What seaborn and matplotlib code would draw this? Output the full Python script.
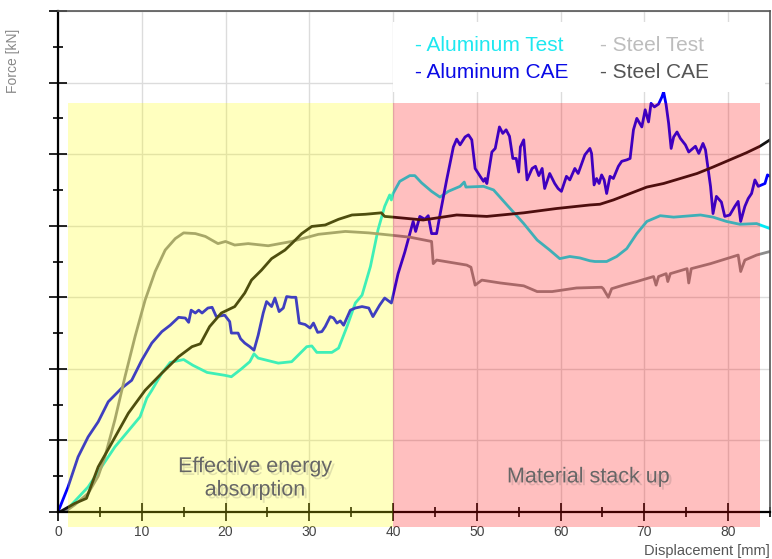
import seaborn as sns
import matplotlib.pyplot as plt
from matplotlib.patches import Rectangle
from matplotlib.ticker import MultipleLocator, NullFormatter
import matplotlib.patheffects as pe

# values (x: displacement [mm], y: force, arbitrary units)
al_test_x = [0.8, 3.6, 6.8, 9.8, 10.6, 11.2, 12.4, 13.4, 15.0, 16.1, 17.8, 19.9, 20.7, 21.9, 22.9,
             23.4, 23.9, 26.3, 27.9, 29.7, 30.3, 30.9, 32.7, 33.5, 34.5, 35.5, 36.3, 37.3, 38.2,
             39.0, 39.6, 39.8, 40.0, 40.8, 42.0, 42.6, 43.4, 44.6, 45.6, 46.6, 48.0, 48.5, 48.7,
             50.8, 52.0, 53.6, 55.6, 57.2, 58.7, 59.9, 61.1, 62.3, 63.5, 64.1, 65.5, 66.7, 67.9,
             69.1, 70.3, 71.9, 73.5, 76.7, 78.2, 79.8, 81.4, 83.4, 85.0]
al_test_y = [0.0, 0.35, 0.91, 1.33, 1.59, 1.70, 1.94, 2.09, 2.13, 2.05, 1.95, 1.91, 1.89, 2.00, 2.10,
             2.21, 2.15, 2.08, 2.10, 2.31, 2.32, 2.23, 2.23, 2.29, 2.59, 2.92, 3.03, 3.43, 3.94,
             4.27, 4.43, 4.36, 4.45, 4.62, 4.70, 4.70, 4.60, 4.48, 4.40, 4.48, 4.55, 4.61, 4.54,
             4.55, 4.50, 4.29, 4.03, 3.80, 3.66, 3.54, 3.57, 3.55, 3.51, 3.50, 3.50, 3.57, 3.68,
             3.89, 4.06, 4.14, 4.12, 4.15, 4.12, 4.06, 4.02, 4.03, 3.96]

al_cae_x = [0.0, 1.2, 2.4, 3.6, 4.8, 6.0, 7.6, 8.8, 10.0, 11.2, 12.4, 13.4, 14.4, 15.2, 15.6, 15.9,
            16.4, 16.8, 17.2, 17.9, 18.4, 18.9, 19.9, 20.5, 20.7, 21.5, 21.8, 22.3, 22.9, 23.4,
            23.9, 24.5, 24.9, 25.5, 25.9, 26.4, 26.9, 27.3, 27.9, 28.4, 28.8, 29.5, 30.1, 30.5,
            31.0, 31.5, 31.9, 32.5, 32.9, 33.3, 33.7, 34.1, 34.9, 35.5, 36.3, 37.1, 37.6, 38.4,
            39.0, 39.8, 40.6, 41.4, 42.0, 42.4, 42.7, 43.2, 43.8, 44.2, 44.6, 45.2, 45.6, 46.4,
            47.2, 47.6, 48.0, 48.6, 49.0, 49.4, 49.8, 50.4, 50.8, 51.0, 51.2, 51.8, 52.2, 52.7,
            53.1, 53.5, 53.9, 54.3, 54.7, 55.0, 55.2, 55.6, 56.0, 56.6, 57.0, 57.4, 57.8, 58.1,
            58.7, 59.3, 59.7, 60.1, 60.7, 61.1, 61.7, 62.1, 62.9, 63.5, 63.7, 64.0, 64.3, 64.6,
            64.9, 65.2, 65.5, 65.9, 66.3, 66.9, 67.3, 67.9, 68.3, 68.7, 69.1, 69.7, 70.1, 70.5,
            70.8, 71.2, 71.7, 72.1, 72.3, 72.6, 72.9, 73.2, 73.5, 73.9, 74.3, 74.9, 75.3, 76.1,
            76.5, 77.0, 77.3, 77.9, 78.2, 78.6, 79.2, 79.6, 80.2, 80.8, 81.2, 81.5, 82.0, 82.4,
            82.8, 83.2, 83.6, 84.4, 84.7, 85.0]
al_cae_y = [0.0, 0.35, 0.77, 1.05, 1.26, 1.54, 1.73, 1.84, 2.12, 2.36, 2.52, 2.61, 2.72, 2.71, 2.65, 2.82,
            2.78, 2.82, 2.78, 2.85, 2.86, 2.73, 2.75, 2.66, 2.50, 2.50, 2.42, 2.36, 2.31, 2.26,
            2.47, 2.78, 2.94, 2.87, 2.99, 2.80, 2.85, 3.01, 3.00, 3.00, 2.64, 2.62, 2.57, 2.64,
            2.51, 2.52, 2.59, 2.73, 2.71, 2.64, 2.67, 2.61, 2.82, 2.85, 2.87, 2.85, 2.73, 2.89,
            2.99, 2.92, 3.33, 3.63, 3.89, 4.06, 3.92, 4.13, 4.09, 4.14, 3.89, 3.89, 4.15, 4.64,
            5.10, 5.21, 5.13, 5.24, 5.27, 5.20, 4.80, 4.69, 4.62, 4.66, 4.59, 5.03, 5.08, 5.38,
            5.29, 5.34, 5.25, 4.94, 4.94, 4.75, 5.10, 5.20, 4.64, 4.80, 4.83, 4.70, 4.80, 4.52,
            4.73, 4.59, 4.52, 4.48, 4.69, 4.64, 4.80, 4.73, 4.99, 5.08, 5.01, 4.57, 4.66, 4.59,
            4.71, 4.64, 4.45, 4.69, 4.66, 4.83, 4.90, 4.92, 4.94, 5.34, 5.50, 5.38, 5.62, 5.45,
            5.71, 5.66, 5.70, 5.80, 5.87, 5.69, 5.43, 5.08, 5.24, 5.31, 5.22, 5.13, 5.03, 5.11,
            5.01, 5.15, 5.06, 4.55, 4.17, 4.41, 4.33, 4.13, 4.15, 4.27, 4.34, 4.06, 4.27, 4.38,
            4.45, 4.64, 4.55, 4.59, 4.71, 4.69]

steel_test_x = [0.8, 2.0, 3.6, 4.8, 5.6, 6.8, 8.0, 9.2, 10.4, 11.6, 12.8, 14.0, 15.0, 16.4, 17.6,
                19.1, 20.0, 21.1, 22.7, 25.1, 27.9, 31.1, 34.3, 37.1, 39.6, 42.0, 44.6, 44.8, 45.2,
                48.8, 49.3, 49.8, 50.6, 52.8, 55.6, 57.2, 59.0, 61.9, 64.9, 65.1, 65.7, 66.1, 67.5,
                69.1, 71.1, 71.4, 71.7, 72.6, 72.8, 73.1, 75.1, 75.3, 75.6, 77.9, 81.2, 81.5, 82.0,
                83.4, 85.0]
steel_test_y = [0.0, 0.10, 0.26, 0.50, 0.77, 1.29, 1.89, 2.45, 2.96, 3.36, 3.66, 3.82, 3.90, 3.89, 3.85,
                3.75, 3.78, 3.73, 3.75, 3.72, 3.78, 3.88, 3.92, 3.90, 3.87, 3.84, 3.78, 3.47, 3.52,
                3.45, 3.42, 3.17, 3.24, 3.20, 3.16, 3.08, 3.08, 3.13, 3.14, 3.12, 3.00, 3.12, 3.17,
                3.22, 3.29, 3.17, 3.29, 3.33, 3.22, 3.33, 3.40, 3.20, 3.40, 3.47, 3.59, 3.36, 3.52,
                3.59, 3.64]

steel_cae_x = [0.2, 2.0, 3.4, 4.8, 6.4, 8.4, 10.4, 12.4, 14.4, 16.0, 17.0, 18.1, 19.5, 21.1, 22.3,
               23.1, 24.3, 25.5, 27.1, 27.9, 29.1, 30.3, 31.9, 33.5, 35.1, 36.7, 38.6, 39.0, 40.0,
               43.6, 47.6, 51.2, 55.6, 59.5, 63.5, 64.7, 66.3, 68.3, 70.3, 72.3, 74.3, 76.3, 78.2,
               80.2, 82.2, 83.8, 85.0]
steel_cae_y = [0.0, 0.12, 0.19, 0.63, 0.96, 1.38, 1.70, 1.94, 2.17, 2.31, 2.35, 2.59, 2.78, 2.87, 3.06,
               3.24, 3.38, 3.54, 3.66, 3.75, 3.89, 3.99, 4.01, 4.09, 4.15, 4.16, 4.18, 4.13, 4.12,
               4.08, 4.15, 4.13, 4.18, 4.24, 4.29, 4.30, 4.36, 4.45, 4.54, 4.59, 4.66, 4.73, 4.82,
               4.92, 5.02, 5.11, 5.20]

series = [
    ('- Aluminum Test', al_test_x, al_test_y, '#00eaf5', '#1ee8f0'),
    ('- Aluminum CAE', al_cae_x, al_cae_y, '#0000ff', '#0a0ae6'),
    ('- Steel Test', steel_test_x, steel_test_y, '#8c8c8c', '#bdbdbd'),
    ('- Steel CAE', steel_cae_x, steel_cae_y, '#141414', '#555555'),
]

sns.set_style('white')
plt.rcParams['font.family'] = ['Liberation Sans', 'DejaVu Sans']

fig = plt.figure(figsize=(7.72, 5.59), dpi=100)
ax = fig.add_axes([0.0751, 0.0841, 0.9223, 0.8962])

handles = []
for name, xs, ys, c, _ in series:
    sns.lineplot(x=xs, y=ys, ax=ax, color=c, linewidth=2.0, sort=False, estimator=None)
    handles.append(ax.lines[-1])

ax.set_xlim(0, 85)
ax.set_ylim(0, 7)
ax.xaxis.set_major_locator(MultipleLocator(10))
ax.xaxis.set_minor_locator(MultipleLocator(5))
ax.yaxis.set_major_locator(MultipleLocator(1))
ax.yaxis.set_minor_locator(MultipleLocator(0.5))
ax.yaxis.set_major_formatter(NullFormatter())
ax.grid(True, which='major', color='#dcdcdc', linewidth=1)
ax.set_axisbelow(True)
ax.tick_params(which='both', bottom=True, left=True, top=False, right=False)
ax.tick_params(which='major', direction='inout', length=13, width=1.2, color='black',
               labelsize=10, labelcolor='#444444', pad=3)
ax.tick_params(which='minor', direction='inout', length=6.5, width=1.2, color='black')

for s in ['left', 'bottom']:
    ax.spines[s].set_color('black')
    ax.spines[s].set_linewidth(1.6)
for s in ['top', 'right']:
    ax.spines[s].set_color('#555555')
    ax.spines[s].set_linewidth(1.2)

ax.set_xlabel('Displacement [mm]', fontsize=10.5, color='#555555', ha='right')
ax.xaxis.set_label_coords(1.0, -0.063)
ax.set_ylabel('Force [kN]', fontsize=10, color='#888888')
ax.yaxis.set_label_coords(-0.053, 0.9)

# shaded phases drawn over the curves
ax.add_patch(Rectangle((1.23, -0.21), 40 - 1.23, 5.92, facecolor='yellow', alpha=0.25,
                       edgecolor='none', zorder=5, clip_on=False))
ax.add_patch(Rectangle((40, -0.21), 83.8 - 40, 5.92, facecolor='red', alpha=0.25,
                       edgecolor='none', zorder=5, clip_on=False))

shadow = [pe.withSimplePatchShadow(offset=(2, -2), shadow_rgbFace='#555555', alpha=0.18)]
ax.text(23.5, 0.47, 'Effective energy\nabsorption', ha='center', va='center', fontsize=15.5,
        color='#666666', linespacing=1.15, zorder=6, path_effects=shadow)
ax.text(63.3, 0.49, 'Material stack up', ha='center', va='center', fontsize=15.5,
        color='#666666', zorder=6, path_effects=shadow)

# white panel behind the legend
ax.add_patch(Rectangle((0.4705, 0.838), 0.5225, 0.14, transform=ax.transAxes,
                       facecolor='white', edgecolor='none', zorder=3))
leg = ax.legend(handles=handles, labels=[s[0] for s in series], ncol=2, frameon=False,
                loc='upper left', bbox_to_anchor=(0.5014, 0.95), borderaxespad=0, borderpad=0,
                handlelength=0, handletextpad=0, columnspacing=1.5, labelspacing=0.39,
                fontsize=15)
for txt, s in zip(leg.get_texts(), series):
    txt.set_color(s[4])
leg.set_zorder(7)

fig.savefig('out.png', dpi=100)
